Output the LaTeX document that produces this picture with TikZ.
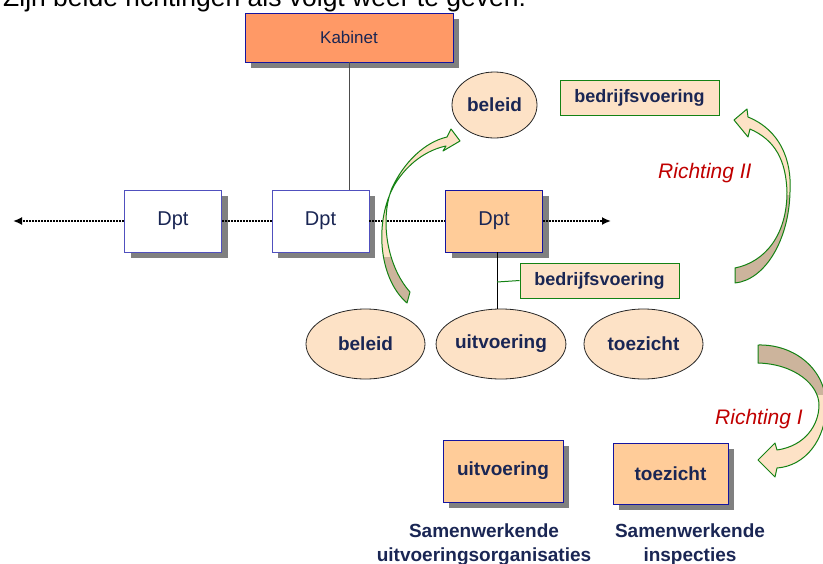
\documentclass[tikz,border=0pt]{standalone}
\usepackage{fontspec}
\setmainfont{Liberation Sans}
\usetikzlibrary{shapes.geometric,arrows.meta,shadows}
\definecolor{navy}{RGB}{26,38,84}
\definecolor{boxblue}{RGB}{20,20,160}
\definecolor{lightblue}{RGB}{80,80,190}
\definecolor{shadowgray}{RGB}{128,128,128}
\definecolor{kabfill}{RGB}{255,153,102}
\definecolor{orfill}{RGB}{255,204,153}
\definecolor{peach}{RGB}{253,226,198}
\definecolor{tanc}{RGB}{204,180,156}
\definecolor{grn}{RGB}{20,130,20}
\definecolor{redc}{RGB}{192,0,0}
\begin{document}
\begin{tikzpicture}[x=1pt,y=-1pt,
  shad/.style={drop shadow={shadow xshift=6pt,shadow yshift=-6pt,fill=shadowgray,opacity=1}},
  box/.style={draw=boxblue,line width=0.9pt,shad,inner sep=0pt,text=navy},
  dptbox/.style={box,draw=lightblue,fill=white,minimum width=97pt,minimum height=62pt,font=\fontsize{20}{24}\selectfont},
  oval/.style={ellipse,draw=black!85,line width=0.8pt,fill=peach,inner sep=0pt,text=navy,font=\fontsize{19}{23}\selectfont\bfseries},
  greenbox/.style={draw=grn,line width=1pt,fill=peach,inner sep=0pt,text=navy,minimum width=159pt,minimum height=35pt,font=\fontsize{18}{22}\selectfont\bfseries},
  bigbox/.style={box,fill=orfill,font=\fontsize{19}{23}\selectfont\bfseries},
  dotline/.style={line width=2pt,dash pattern=on 1.8pt off 1.2pt,black},
  tip/.style={-{Latex[length=9pt,width=8pt]}},
  ribbon/.style={draw=grn,line width=1pt,line join=round},
  rlabel/.style={text=redc,font=\fontsize{21}{25}\selectfont\itshape,anchor=base west,inner sep=0pt},
  caption/.style={text=navy,font=\fontsize{19}{24}\selectfont\bfseries,align=center,anchor=base,inner sep=0pt}]
\useasboundingbox (0,0) rectangle (823,563);
\clip (0,0) rectangle (823,563);

% title (cut off at the top)
\node[anchor=base west,inner sep=0pt,font=\fontsize{26.5}{30}\selectfont] (title) at (3,6) {Zijn beide richtingen als volgt weer te geven:};

% Kabinet and departments
\node[box,fill=kabfill,minimum width=208pt,minimum height=49pt,font=\fontsize{17}{20}\selectfont] (kab) at (349,37.5) {Kabinet};
\node[dptbox] (d1) at (173,221) {Dpt};
\node[dptbox] (d2) at (320.5,221) {Dpt};
\node[dptbox,draw=boxblue,fill=orfill] (d3) at (494,221) {Dpt};

\draw[black!70,line width=0.8pt] (kab.south) -- (kab.south |- d2.north);

\coordinate (lt) at (13,221);
\coordinate (rt) at (611,221);
\draw[dotline,tip] (d1.west) -- (lt);
\draw[dotline] (d1.east) -- (d2.west);
\draw[dotline] (d2.east) -- (d3.west);
\draw[dotline,tip] (d3.east) -- (rt);

% ellipses
\node[oval,minimum width=85pt,minimum height=66pt] (bt) at (494.5,105) {beleid};
\node[oval,minimum width=119pt,minimum height=70pt] (be) at (365.5,344) {beleid};
\node[oval,minimum width=119pt,minimum height=70pt] (ue) at (501,344) {uitvoering};
\node[oval,minimum width=119pt,minimum height=70pt] (te) at (643.5,344) {toezicht};

% bedrijfsvoering boxes
\node[greenbox] (bv1) at (639.5,97.5) {bedrijfsvoering};
\node[greenbox] (bv2) at (599.5,280.5) {bedrijfsvoering};

\coordinate (j) at (497,282);
\draw[black,line width=0.8pt] (j |- d3.south) -- (j |- ue.north);
\draw[grn,line width=1pt] (j) -- (bv2.west);

% bottom boxes
\node[bigbox,minimum width=120pt,minimum height=62pt] (ub) at (503,471) {uitvoering};
\node[bigbox,minimum width=115pt,minimum height=61pt] (tb) at (670.5,473.5) {toezicht};

\node[caption] (c1) at (484,561) {Samenwerkende\\uitvoeringsorganisaties};
\node[caption] (c2) at (690,561) {Samenwerkende\\inspecties};

% ribbon arrow: beleid up to beleid
\path[save path=\arrA] (407,303) .. controls (378,278) and (374,220) .. (395,184)
  .. controls (408,163) and (427,150) .. (446,146) -- (443,151) -- (460,141) -- (451,129) -- (447,137)
  .. controls (425,142) and (404,162) .. (392,188)
  .. controls (380,218) and (386,265) .. (410,292) -- cycle;
\begin{scope}
  \clip[use path=\arrA];
  \fill[peach] (360,120) rectangle (470,257);
  \fill[tanc] (360,257) rectangle (470,310);
\end{scope}
\draw[ribbon,use path=\arrA];

% Richting II
\path[save path=\arrB] (734,120) -- (747,109) -- (748,117)
  .. controls (780,130) and (792,160) .. (790,192)
  .. controls (789,240) and (765,280) .. (735,283) -- (735,268)
  .. controls (765,262) and (787,235) .. (787,192)
  .. controls (786,160) and (775,140) .. (750,129) -- (748,137) -- cycle;
\begin{scope}
  \clip[use path=\arrB];
  \fill[peach] (720,100) rectangle (800,195);
  \fill[tanc] (720,195) rectangle (800,290);
\end{scope}
\draw[ribbon,use path=\arrB];
\node[rlabel] (r2) at (658,178) {Richting II};

% Richting I
\path[save path=\arrC] (758,345) .. controls (795,344) and (826,370) .. (826,405)
  .. controls (826,440) and (805,466) .. (777,468) -- (775,477) -- (758,460) -- (775,443) -- (777,450)
  .. controls (805,446) and (819,425) .. (819,405)
  .. controls (819,385) and (795,364) .. (758,363) -- cycle;
\begin{scope}
  \clip[use path=\arrC];
  \fill[tanc] (740,330) rectangle (840,395);
  \fill[peach] (740,395) rectangle (840,490);
\end{scope}
\draw[ribbon,use path=\arrC];
\node[rlabel] (r1) at (715,424) {Richting I};
\end{tikzpicture}
\end{document}
